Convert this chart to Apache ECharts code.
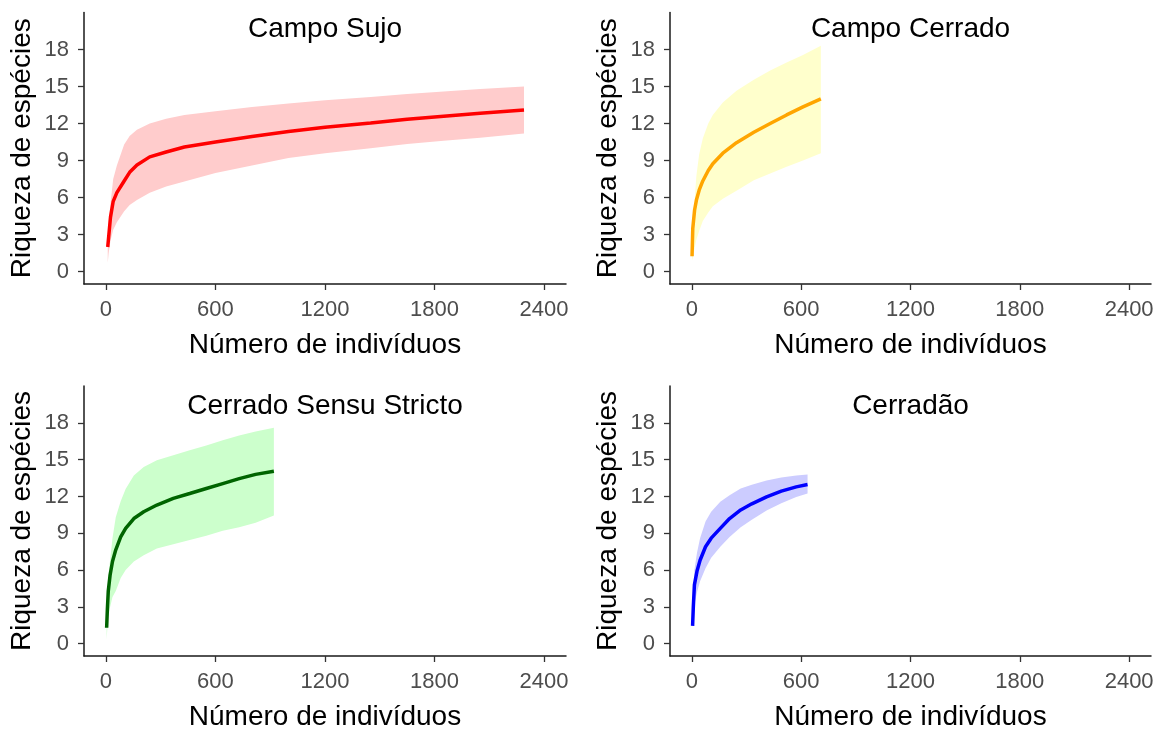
<!DOCTYPE html>
<html>
<head>
<meta charset="utf-8">
<script src="https://cdn.jsdelivr.net/npm/echarts@6/dist/echarts.min.js"></script>
<style>
html,body{margin:0;padding:0;background:#fff;}
#chart{width:1163px;height:732px;}
</style>
</head>
<body>
<div id="chart"></div>
<script>
const panelTitles = ['Campo Sujo', 'Campo Cerrado', 'Cerrado Sensu Stricto', 'Cerradão'];
const xAxisTitle = 'Número de indivíduos';
const yAxisTitle = 'Riqueza de espécies';
const xTicks = [0, 600, 1200, 1800, 2400];
const yTicks = [0, 3, 6, 9, 12, 15, 18];

// Campo Sujo
const sujoX     = [10, 15, 25, 40, 60, 100, 130, 170, 240, 330, 430, 600, 800, 1000, 1200, 1450, 1650, 1850, 2050, 2290];
const sujoMean  = [2.0, 2.8, 4.4, 5.7, 6.4, 7.35, 8.05, 8.65, 9.3, 9.7, 10.1, 10.5, 10.95, 11.35, 11.7, 12.05, 12.35, 12.6, 12.83, 13.1];
const sujoLower = [0.7, 1.5, 2.5, 3.4, 4.0, 4.9, 5.4, 5.8, 6.4, 6.9, 7.3, 8.0, 8.6, 9.2, 9.6, 10.0, 10.35, 10.6, 10.86, 11.2];
const sujoUpper = [3.0, 4.0, 5.5, 7.5, 8.6, 10.3, 11.0, 11.5, 12.0, 12.4, 12.7, 13.0, 13.35, 13.62, 13.88, 14.15, 14.4, 14.6, 14.8, 15.0];

// Campo Cerrado
const ccX     = [1, 5, 15, 25, 40, 60, 90, 115, 170, 245, 340, 430, 520, 610, 708];
const ccMean  = [1.25, 3.5, 5.0, 5.8, 6.6, 7.35, 8.2, 8.75, 9.6, 10.45, 11.3, 12.0, 12.7, 13.35, 14.0];
const ccLower = [0.9, 1.1, 1.9, 2.6, 3.3, 4.1, 4.8, 5.3, 5.9, 6.55, 7.4, 7.95, 8.5, 9.0, 9.6];
const ccUpper = [2.0, 3.0, 5.8, 7.8, 9.5, 10.8, 12.0, 12.7, 13.7, 14.65, 15.55, 16.3, 16.95, 17.55, 18.3];

// Cerrado Sensu Stricto
const cssX     = [4, 8, 13, 23, 36, 54, 81, 108, 153, 207, 279, 369, 459, 550, 640, 730, 820, 920];
const cssMean  = [1.3, 2.8, 4.3, 5.6, 6.7, 7.65, 8.7, 9.4, 10.2, 10.75, 11.3, 11.84, 12.24, 12.65, 13.05, 13.45, 13.8, 14.05];
const cssLower = [0.35, 1.3, 2.3, 3.0, 3.8, 4.3, 5.35, 6.0, 6.7, 7.2, 7.75, 8.1, 8.45, 8.8, 9.2, 9.5, 9.85, 10.45];
const cssUpper = [3.2, 4.5, 5.5, 6.8, 8.6, 10.3, 11.6, 12.6, 13.7, 14.4, 14.95, 15.35, 15.76, 16.16, 16.57, 16.97, 17.3, 17.6];

// Cerradão
const cdX     = [4, 8, 14, 28, 45, 75, 106, 156, 207, 268, 329, 410, 491, 573, 635];
const cdMean  = [1.45, 3.0, 4.8, 5.9, 6.8, 7.9, 8.6, 9.4, 10.2, 10.9, 11.4, 11.97, 12.43, 12.78, 12.97];
const cdLower = [1.3, 2.2, 3.2, 4.2, 5.1, 6.16, 7.0, 7.9, 8.7, 9.5, 10.1, 10.85, 11.45, 11.95, 12.24];
const cdUpper = [3.2, 4.5, 6.0, 7.4, 8.6, 9.95, 10.75, 11.57, 12.1, 12.65, 12.95, 13.3, 13.55, 13.7, 13.78];

const lineColors = ['#FF0000', '#FFA500', '#006400', '#0000FF'];
const bandColors = ['#FFCCCC', '#FFFFCC', '#CCFFCC', '#CCCCFF'];

const panels = [
  {x: sujoX, mean: sujoMean, lo: sujoLower, hi: sujoUpper},
  {x: ccX, mean: ccMean, lo: ccLower, hi: ccUpper},
  {x: cssX, mean: cssMean, lo: cssLower, hi: cssUpper},
  {x: cdX, mean: cdMean, lo: cdLower, hi: cdUpper}
];

const FONT = '"Liberation Sans", Arial, sans-serif';
const grids = [
  {left: 84, top: 12.5, width: 482, height: 271.5},
  {left: 670, top: 12.5, width: 481, height: 271.5},
  {left: 84, top: 386, width: 482, height: 271.5},
  {left: 670, top: 386, width: 481, height: 271.5}
];
const titleTops = [15, 15, 392, 392];

const axisCommon = {
  axisLine: {onZero: false, lineStyle: {color: '#1a1a1a', width: 1.5}},
  splitLine: {show: false}
};
const tickStyle = {show: true, length: 6, lineStyle: {color: '#333', width: 1.3}};

const xAxes = grids.map((g, i) => Object.assign({}, axisCommon, {
  type: 'value', gridIndex: i, min: -120, max: 2520,
  axisTick: Object.assign({}, tickStyle, {customValues: xTicks}),
  axisLabel: {customValues: xTicks, formatter: v => String(v), color: '#4D4D4D', fontSize: 22, fontFamily: FONT, margin: 15},
  name: xAxisTitle, nameLocation: 'middle', nameGap: 47,
  nameTextStyle: {color: '#000', fontSize: 28, fontFamily: FONT}
}));
const yAxes = grids.map((g, i) => Object.assign({}, axisCommon, {
  type: 'value', gridIndex: i, min: -1, max: 21,
  axisTick: Object.assign({}, tickStyle, {customValues: yTicks}),
  axisLabel: {customValues: yTicks, formatter: v => String(v), color: '#4D4D4D', fontSize: 22, fontFamily: FONT, margin: 15},
  name: yAxisTitle, nameLocation: 'middle', nameGap: 48,
  nameTextStyle: {color: '#000', fontSize: 28, fontFamily: FONT}
}));

const series = [];
panels.forEach((p, i) => {
  const bandData = p.x.map((x, k) => [x, p.lo[k], p.hi[k]]);
  const meanData = p.x.map((x, k) => [x, p.mean[k]]);
  series.push({
    type: 'custom', xAxisIndex: i, yAxisIndex: i, silent: true, z: 1,
    data: bandData,
    encode: {x: 0, y: [1, 2]},
    renderItem: function (params, api) {
      if (params.dataIndex !== 0) return null;
      const upperPts = p.x.map((x, k) => api.coord([x, p.hi[k]]));
      const lowerPts = p.x.map((x, k) => api.coord([x, p.lo[k]])).reverse();
      return {
        type: 'polygon',
        shape: {points: upperPts.concat(lowerPts)},
        style: {fill: bandColors[i], stroke: null}
      };
    }
  });
  series.push({
    type: 'line', xAxisIndex: i, yAxisIndex: i,
    data: meanData, symbol: 'none',
    lineStyle: {color: lineColors[i], width: 3.5}, z: 3
  });
});

const titles = panelTitles.map((t, i) => ({
  text: t, left: grids[i].left + grids[i].width / 2, top: titleTops[i],
  textAlign: 'center', padding: 0,
  textStyle: {color: '#000', fontSize: 28, fontWeight: 'normal', fontFamily: FONT}
}));

const chart = echarts.init(document.getElementById('chart'), null, {renderer: 'canvas'});
chart.setOption({
  animation: false,
  backgroundColor: '#fff',
  title: titles,
  grid: grids,
  xAxis: xAxes,
  yAxis: yAxes,
  series: series
});
</script>
</body>
</html>
